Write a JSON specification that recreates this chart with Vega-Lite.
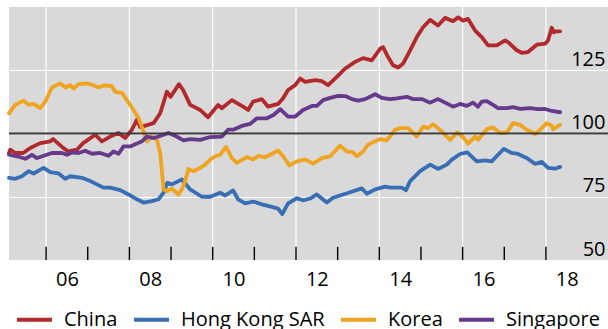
{
"$schema": "https://vega.github.io/schema/vega-lite/v6.json",
"width": 599, "height": 253,
"autosize": {"type": "none"},
"padding": {"left": 9, "top": 7, "right": 0, "bottom": 69},
"background": "white",
"config": {"view": {"fill": "#d9d9d9", "stroke": null}, "font": "Open Sans"},
"datasets": {
"years": [{"t":2006},{"t":2008},{"t":2010},{"t":2012},{"t":2014},{"t":2016},{"t":2018}],
"ticks": [{"t":2006,"v":50,"v2":55.2},{"t":2007,"v":50,"v2":55.2},{"t":2008,"v":50,"v2":55.2},{"t":2009,"v":50,"v2":55.2},{"t":2010,"v":50,"v2":55.2},{"t":2011,"v":50,"v2":55.2},{"t":2012,"v":50,"v2":55.2},{"t":2013,"v":50,"v2":55.2},{"t":2014,"v":50,"v2":55.2},{"t":2015,"v":50,"v2":55.2},{"t":2016,"v":50,"v2":55.2},{"t":2017,"v":50,"v2":55.2},{"t":2018,"v":50,"v2":55.2}],
"base": [{"v":100}],
"lines": [
{"s":"China","t":2005.11,"v":92.3},{"s":"China","t":2005.14,"v":93.6},{"s":"China","t":2005.26,"v":92.3},{"s":"China","t":2005.45,"v":92.3},{"s":"China","t":2005.62,"v":94.3},{"s":"China","t":2005.86,"v":96.2},{"s":"China","t":2006.10,"v":96.9},{"s":"China","t":2006.17,"v":97.8},{"s":"China","t":2006.41,"v":94.3},{"s":"China","t":2006.53,"v":92.9},{"s":"China","t":2006.74,"v":93.6},{"s":"China","t":2006.89,"v":96.2},{"s":"China","t":2007.18,"v":99.5},{"s":"China","t":2007.34,"v":96.9},{"s":"China","t":2007.54,"v":98.8},{"s":"China","t":2007.74,"v":100.2},{"s":"China","t":2007.90,"v":98.2},{"s":"China","t":2008.06,"v":101.5},{"s":"China","t":2008.18,"v":105.4},{"s":"China","t":2008.26,"v":102.5},{"s":"China","t":2008.58,"v":104.1},{"s":"China","t":2008.74,"v":108.0},{"s":"China","t":2008.90,"v":116.5},{"s":"China","t":2008.99,"v":114.5},{"s":"China","t":2009.19,"v":119.5},{"s":"China","t":2009.29,"v":117.2},{"s":"China","t":2009.46,"v":111.3},{"s":"China","t":2009.70,"v":109.3},{"s":"China","t":2009.89,"v":106.4},{"s":"China","t":2010.13,"v":111.3},{"s":"China","t":2010.22,"v":110.0},{"s":"China","t":2010.46,"v":113.2},{"s":"China","t":2010.73,"v":110.6},{"s":"China","t":2010.85,"v":109.3},{"s":"China","t":2010.97,"v":112.6},{"s":"China","t":2011.18,"v":113.6},{"s":"China","t":2011.33,"v":110.6},{"s":"China","t":2011.57,"v":111.7},{"s":"China","t":2011.69,"v":113.9},{"s":"China","t":2011.81,"v":117.2},{"s":"China","t":2011.98,"v":119.1},{"s":"China","t":2012.10,"v":121.7},{"s":"China","t":2012.22,"v":120.4},{"s":"China","t":2012.46,"v":121.1},{"s":"China","t":2012.62,"v":120.7},{"s":"China","t":2012.77,"v":119.1},{"s":"China","t":2012.98,"v":122.4},{"s":"China","t":2013.18,"v":125.7},{"s":"China","t":2013.42,"v":128.3},{"s":"China","t":2013.61,"v":129.8},{"s":"China","t":2013.82,"v":128.9},{"s":"China","t":2014.02,"v":133.5},{"s":"China","t":2014.09,"v":134.1},{"s":"China","t":2014.21,"v":130.2},{"s":"China","t":2014.33,"v":127.0},{"s":"China","t":2014.45,"v":126.1},{"s":"China","t":2014.57,"v":127.6},{"s":"China","t":2014.74,"v":132.9},{"s":"China","t":2014.90,"v":138.1},{"s":"China","t":2015.05,"v":142.0},{"s":"China","t":2015.22,"v":144.9},{"s":"China","t":2015.41,"v":142.7},{"s":"China","t":2015.58,"v":145.7},{"s":"China","t":2015.77,"v":144.4},{"s":"China","t":2015.89,"v":145.9},{"s":"China","t":2016.01,"v":144.6},{"s":"China","t":2016.13,"v":145.3},{"s":"China","t":2016.30,"v":140.7},{"s":"China","t":2016.46,"v":138.1},{"s":"China","t":2016.61,"v":134.8},{"s":"China","t":2016.82,"v":134.8},{"s":"China","t":2017.02,"v":136.8},{"s":"China","t":2017.09,"v":136.1},{"s":"China","t":2017.30,"v":132.9},{"s":"China","t":2017.42,"v":131.9},{"s":"China","t":2017.57,"v":132.2},{"s":"China","t":2017.78,"v":135.1},{"s":"China","t":2017.98,"v":135.5},{"s":"China","t":2018.05,"v":136.8},{"s":"China","t":2018.14,"v":141.8},{"s":"China","t":2018.19,"v":140.0},{"s":"China","t":2018.24,"v":140.4},{"s":"China","t":2018.34,"v":140.4},
{"s":"Hong Kong SAR","t":2005.11,"v":82.5},{"s":"Hong Kong SAR","t":2005.26,"v":82.1},{"s":"Hong Kong SAR","t":2005.42,"v":83.1},{"s":"Hong Kong SAR","t":2005.58,"v":85.1},{"s":"Hong Kong SAR","t":2005.70,"v":84.2},{"s":"Hong Kong SAR","t":2005.94,"v":86.4},{"s":"Hong Kong SAR","t":2006.10,"v":84.7},{"s":"Hong Kong SAR","t":2006.30,"v":84.2},{"s":"Hong Kong SAR","t":2006.46,"v":82.1},{"s":"Hong Kong SAR","t":2006.58,"v":83.1},{"s":"Hong Kong SAR","t":2006.86,"v":82.5},{"s":"Hong Kong SAR","t":2007.06,"v":81.2},{"s":"Hong Kong SAR","t":2007.22,"v":79.9},{"s":"Hong Kong SAR","t":2007.38,"v":78.6},{"s":"Hong Kong SAR","t":2007.54,"v":78.6},{"s":"Hong Kong SAR","t":2007.78,"v":77.6},{"s":"Hong Kong SAR","t":2007.98,"v":75.9},{"s":"Hong Kong SAR","t":2008.18,"v":74.0},{"s":"Hong Kong SAR","t":2008.34,"v":72.7},{"s":"Hong Kong SAR","t":2008.54,"v":73.3},{"s":"Hong Kong SAR","t":2008.70,"v":74.0},{"s":"Hong Kong SAR","t":2008.82,"v":76.6},{"s":"Hong Kong SAR","t":2008.91,"v":80.5},{"s":"Hong Kong SAR","t":2009.02,"v":79.9},{"s":"Hong Kong SAR","t":2009.26,"v":81.8},{"s":"Hong Kong SAR","t":2009.46,"v":77.9},{"s":"Hong Kong SAR","t":2009.74,"v":75.0},{"s":"Hong Kong SAR","t":2009.94,"v":75.0},{"s":"Hong Kong SAR","t":2010.18,"v":76.6},{"s":"Hong Kong SAR","t":2010.30,"v":75.5},{"s":"Hong Kong SAR","t":2010.49,"v":77.5},{"s":"Hong Kong SAR","t":2010.61,"v":74.0},{"s":"Hong Kong SAR","t":2010.78,"v":72.4},{"s":"Hong Kong SAR","t":2010.97,"v":73.1},{"s":"Hong Kong SAR","t":2011.18,"v":72.0},{"s":"Hong Kong SAR","t":2011.42,"v":71.0},{"s":"Hong Kong SAR","t":2011.57,"v":70.3},{"s":"Hong Kong SAR","t":2011.67,"v":68.1},{"s":"Hong Kong SAR","t":2011.81,"v":72.4},{"s":"Hong Kong SAR","t":2012.02,"v":74.4},{"s":"Hong Kong SAR","t":2012.17,"v":73.6},{"s":"Hong Kong SAR","t":2012.34,"v":74.3},{"s":"Hong Kong SAR","t":2012.50,"v":75.9},{"s":"Hong Kong SAR","t":2012.74,"v":72.7},{"s":"Hong Kong SAR","t":2012.89,"v":74.6},{"s":"Hong Kong SAR","t":2013.13,"v":75.9},{"s":"Hong Kong SAR","t":2013.37,"v":77.2},{"s":"Hong Kong SAR","t":2013.58,"v":78.3},{"s":"Hong Kong SAR","t":2013.70,"v":76.2},{"s":"Hong Kong SAR","t":2013.90,"v":77.9},{"s":"Hong Kong SAR","t":2014.14,"v":79.0},{"s":"Hong Kong SAR","t":2014.26,"v":78.6},{"s":"Hong Kong SAR","t":2014.54,"v":78.6},{"s":"Hong Kong SAR","t":2014.64,"v":77.6},{"s":"Hong Kong SAR","t":2014.74,"v":81.2},{"s":"Hong Kong SAR","t":2014.98,"v":85.1},{"s":"Hong Kong SAR","t":2015.22,"v":87.7},{"s":"Hong Kong SAR","t":2015.41,"v":86.0},{"s":"Hong Kong SAR","t":2015.62,"v":87.7},{"s":"Hong Kong SAR","t":2015.74,"v":89.7},{"s":"Hong Kong SAR","t":2015.94,"v":91.9},{"s":"Hong Kong SAR","t":2016.11,"v":92.5},{"s":"Hong Kong SAR","t":2016.34,"v":89.0},{"s":"Hong Kong SAR","t":2016.54,"v":89.4},{"s":"Hong Kong SAR","t":2016.70,"v":89.0},{"s":"Hong Kong SAR","t":2016.85,"v":91.6},{"s":"Hong Kong SAR","t":2016.99,"v":93.9},{"s":"Hong Kong SAR","t":2017.18,"v":92.3},{"s":"Hong Kong SAR","t":2017.33,"v":91.9},{"s":"Hong Kong SAR","t":2017.54,"v":90.3},{"s":"Hong Kong SAR","t":2017.74,"v":88.0},{"s":"Hong Kong SAR","t":2017.90,"v":88.8},{"s":"Hong Kong SAR","t":2018.05,"v":86.4},{"s":"Hong Kong SAR","t":2018.22,"v":86.1},{"s":"Hong Kong SAR","t":2018.34,"v":86.8},
{"s":"Korea","t":2005.11,"v":108.0},{"s":"Korea","t":2005.26,"v":111.3},{"s":"Korea","t":2005.46,"v":113.0},{"s":"Korea","t":2005.58,"v":111.3},{"s":"Korea","t":2005.70,"v":111.7},{"s":"Korea","t":2005.86,"v":110.0},{"s":"Korea","t":2005.98,"v":112.6},{"s":"Korea","t":2006.14,"v":118.2},{"s":"Korea","t":2006.34,"v":119.8},{"s":"Korea","t":2006.46,"v":118.2},{"s":"Korea","t":2006.58,"v":119.1},{"s":"Korea","t":2006.66,"v":117.8},{"s":"Korea","t":2006.78,"v":119.5},{"s":"Korea","t":2006.98,"v":119.8},{"s":"Korea","t":2007.14,"v":119.1},{"s":"Korea","t":2007.26,"v":118.2},{"s":"Korea","t":2007.38,"v":119.0},{"s":"Korea","t":2007.58,"v":118.7},{"s":"Korea","t":2007.66,"v":116.5},{"s":"Korea","t":2007.82,"v":116.1},{"s":"Korea","t":2007.94,"v":113.2},{"s":"Korea","t":2008.10,"v":109.3},{"s":"Korea","t":2008.22,"v":106.0},{"s":"Korea","t":2008.34,"v":100.8},{"s":"Korea","t":2008.42,"v":96.9},{"s":"Korea","t":2008.54,"v":98.8},{"s":"Korea","t":2008.66,"v":97.5},{"s":"Korea","t":2008.74,"v":92.3},{"s":"Korea","t":2008.82,"v":77.9},{"s":"Korea","t":2008.90,"v":77.2},{"s":"Korea","t":2009.02,"v":78.2},{"s":"Korea","t":2009.18,"v":75.9},{"s":"Korea","t":2009.30,"v":79.2},{"s":"Korea","t":2009.42,"v":86.0},{"s":"Korea","t":2009.54,"v":85.1},{"s":"Korea","t":2009.70,"v":86.4},{"s":"Korea","t":2009.82,"v":87.7},{"s":"Korea","t":2009.94,"v":89.7},{"s":"Korea","t":2010.06,"v":91.0},{"s":"Korea","t":2010.18,"v":91.6},{"s":"Korea","t":2010.32,"v":94.7},{"s":"Korea","t":2010.46,"v":90.3},{"s":"Korea","t":2010.58,"v":88.4},{"s":"Korea","t":2010.82,"v":90.7},{"s":"Korea","t":2010.97,"v":89.7},{"s":"Korea","t":2011.10,"v":91.2},{"s":"Korea","t":2011.26,"v":90.6},{"s":"Korea","t":2011.42,"v":92.0},{"s":"Korea","t":2011.57,"v":93.3},{"s":"Korea","t":2011.69,"v":91.0},{"s":"Korea","t":2011.84,"v":87.4},{"s":"Korea","t":2012.02,"v":89.0},{"s":"Korea","t":2012.22,"v":89.7},{"s":"Korea","t":2012.41,"v":88.1},{"s":"Korea","t":2012.62,"v":90.3},{"s":"Korea","t":2012.82,"v":91.0},{"s":"Korea","t":2013.06,"v":95.2},{"s":"Korea","t":2013.22,"v":92.9},{"s":"Korea","t":2013.37,"v":92.5},{"s":"Korea","t":2013.46,"v":91.0},{"s":"Korea","t":2013.61,"v":92.9},{"s":"Korea","t":2013.73,"v":95.6},{"s":"Korea","t":2014.02,"v":97.8},{"s":"Korea","t":2014.18,"v":97.3},{"s":"Korea","t":2014.38,"v":101.5},{"s":"Korea","t":2014.50,"v":102.1},{"s":"Korea","t":2014.69,"v":102.1},{"s":"Korea","t":2014.90,"v":98.8},{"s":"Korea","t":2015.05,"v":102.7},{"s":"Korea","t":2015.17,"v":102.1},{"s":"Korea","t":2015.29,"v":103.7},{"s":"Korea","t":2015.50,"v":100.8},{"s":"Korea","t":2015.70,"v":97.5},{"s":"Korea","t":2015.87,"v":100.4},{"s":"Korea","t":2016.01,"v":98.6},{"s":"Korea","t":2016.13,"v":96.0},{"s":"Korea","t":2016.30,"v":98.8},{"s":"Korea","t":2016.37,"v":97.5},{"s":"Korea","t":2016.58,"v":101.7},{"s":"Korea","t":2016.73,"v":102.4},{"s":"Korea","t":2016.90,"v":100.2},{"s":"Korea","t":2017.06,"v":100.4},{"s":"Korea","t":2017.21,"v":104.1},{"s":"Korea","t":2017.38,"v":103.4},{"s":"Korea","t":2017.54,"v":101.5},{"s":"Korea","t":2017.74,"v":99.8},{"s":"Korea","t":2017.86,"v":101.5},{"s":"Korea","t":2018.02,"v":104.1},{"s":"Korea","t":2018.14,"v":103.1},{"s":"Korea","t":2018.17,"v":101.7},{"s":"Korea","t":2018.34,"v":103.4},
{"s":"Singapore","t":2005.11,"v":91.6},{"s":"Singapore","t":2005.30,"v":91.0},{"s":"Singapore","t":2005.50,"v":90.0},{"s":"Singapore","t":2005.66,"v":91.6},{"s":"Singapore","t":2005.78,"v":90.3},{"s":"Singapore","t":2005.98,"v":91.4},{"s":"Singapore","t":2006.14,"v":92.3},{"s":"Singapore","t":2006.38,"v":92.3},{"s":"Singapore","t":2006.50,"v":91.6},{"s":"Singapore","t":2006.62,"v":92.5},{"s":"Singapore","t":2006.78,"v":92.3},{"s":"Singapore","t":2006.94,"v":93.2},{"s":"Singapore","t":2007.10,"v":92.0},{"s":"Singapore","t":2007.30,"v":92.3},{"s":"Singapore","t":2007.50,"v":91.2},{"s":"Singapore","t":2007.62,"v":92.9},{"s":"Singapore","t":2007.74,"v":92.0},{"s":"Singapore","t":2007.86,"v":94.9},{"s":"Singapore","t":2008.02,"v":94.9},{"s":"Singapore","t":2008.18,"v":96.0},{"s":"Singapore","t":2008.30,"v":96.9},{"s":"Singapore","t":2008.42,"v":98.8},{"s":"Singapore","t":2008.58,"v":98.2},{"s":"Singapore","t":2008.70,"v":98.8},{"s":"Singapore","t":2008.94,"v":100.2},{"s":"Singapore","t":2009.10,"v":99.1},{"s":"Singapore","t":2009.30,"v":97.3},{"s":"Singapore","t":2009.46,"v":97.8},{"s":"Singapore","t":2009.70,"v":97.5},{"s":"Singapore","t":2009.94,"v":98.6},{"s":"Singapore","t":2010.22,"v":98.8},{"s":"Singapore","t":2010.37,"v":101.5},{"s":"Singapore","t":2010.49,"v":101.5},{"s":"Singapore","t":2010.70,"v":103.0},{"s":"Singapore","t":2010.90,"v":103.8},{"s":"Singapore","t":2011.06,"v":106.0},{"s":"Singapore","t":2011.30,"v":106.0},{"s":"Singapore","t":2011.46,"v":107.3},{"s":"Singapore","t":2011.62,"v":109.6},{"s":"Singapore","t":2011.81,"v":106.7},{"s":"Singapore","t":2011.98,"v":106.7},{"s":"Singapore","t":2012.17,"v":109.3},{"s":"Singapore","t":2012.38,"v":110.9},{"s":"Singapore","t":2012.50,"v":110.9},{"s":"Singapore","t":2012.65,"v":113.2},{"s":"Singapore","t":2012.82,"v":114.1},{"s":"Singapore","t":2013.01,"v":114.9},{"s":"Singapore","t":2013.18,"v":114.8},{"s":"Singapore","t":2013.34,"v":113.6},{"s":"Singapore","t":2013.49,"v":113.0},{"s":"Singapore","t":2013.66,"v":113.6},{"s":"Singapore","t":2013.90,"v":115.5},{"s":"Singapore","t":2014.06,"v":114.1},{"s":"Singapore","t":2014.26,"v":113.6},{"s":"Singapore","t":2014.42,"v":113.9},{"s":"Singapore","t":2014.66,"v":114.5},{"s":"Singapore","t":2014.81,"v":113.6},{"s":"Singapore","t":2015.02,"v":113.6},{"s":"Singapore","t":2015.22,"v":112.2},{"s":"Singapore","t":2015.41,"v":113.6},{"s":"Singapore","t":2015.58,"v":112.2},{"s":"Singapore","t":2015.77,"v":110.6},{"s":"Singapore","t":2015.94,"v":111.7},{"s":"Singapore","t":2016.10,"v":110.9},{"s":"Singapore","t":2016.25,"v":112.2},{"s":"Singapore","t":2016.37,"v":110.6},{"s":"Singapore","t":2016.46,"v":112.6},{"s":"Singapore","t":2016.58,"v":112.8},{"s":"Singapore","t":2016.73,"v":111.3},{"s":"Singapore","t":2016.85,"v":110.0},{"s":"Singapore","t":2017.06,"v":110.0},{"s":"Singapore","t":2017.21,"v":110.4},{"s":"Singapore","t":2017.38,"v":109.7},{"s":"Singapore","t":2017.62,"v":110.0},{"s":"Singapore","t":2017.81,"v":109.6},{"s":"Singapore","t":2017.98,"v":109.7},{"s":"Singapore","t":2018.14,"v":108.9},{"s":"Singapore","t":2018.34,"v":108.4}
]
},
"layer": [
{
"data": {"name": "years"},
"mark": {"type": "rule", "color": "white", "strokeWidth": 1.2},
"encoding": {"x": {"field": "t", "type": "quantitative", "scale": {"domain": [2005.11, 2019.49], "nice": false, "zero": false},
"axis": {"values": [2006.5, 2008.5, 2010.5, 2012.5, 2014.5, 2016.5, 2018.5], "labelExpr": "slice(toString(floor(datum.value)), 2)", "grid": false, "domain": false, "ticks": false, "labelPadding": 9, "labelFontSize": 20, "labelColor": "black", "title": null}}}
},
{
"data": {"name": "ticks"},
"mark": {"type": "rule", "color": "black", "strokeWidth": 1.4},
"encoding": {
"x": {"field": "t", "type": "quantitative", "scale": {"domain": [2005.11, 2019.49], "nice": false, "zero": false},
"axis": {"values": [2006.5, 2008.5, 2010.5, 2012.5, 2014.5, 2016.5, 2018.5], "labelExpr": "slice(toString(floor(datum.value)), 2)", "grid": false, "domain": false, "ticks": false, "labelPadding": 9, "labelFontSize": 20, "labelColor": "black", "title": null}},
"y": {"field": "v", "type": "quantitative", "scale": {"domain": [50, 150], "nice": false, "zero": false},
"axis": {"orient": "right", "values": [50, 75, 100, 125], "grid": true, "gridColor": "white", "gridWidth": 1.2, "gridOpacity": 1, "ticks": false, "domain": false, "labelAlign": "right", "labelPadding": -3, "labelBaseline": "alphabetic", "labelOffset": -5, "labelFontSize": 20, "labelColor": "black", "title": null}},
"y2": {"field": "v2"}
}
},
{
"data": {"name": "lines"},
"mark": {"type": "line", "strokeWidth": 3.8, "strokeJoin": "round", "strokeCap": "round"},
"encoding": {
"x": {"field": "t", "type": "quantitative", "scale": {"domain": [2005.11, 2019.49], "nice": false, "zero": false},
"axis": {"values": [2006.5, 2008.5, 2010.5, 2012.5, 2014.5, 2016.5, 2018.5], "labelExpr": "slice(toString(floor(datum.value)), 2)", "grid": false, "domain": false, "ticks": false, "labelPadding": 9, "labelFontSize": 20, "labelColor": "black", "title": null}},
"y": {"field": "v", "type": "quantitative", "scale": {"domain": [50, 150], "nice": false, "zero": false},
"axis": {"orient": "right", "values": [50, 75, 100, 125], "grid": true, "gridColor": "white", "gridWidth": 1.2, "gridOpacity": 1, "ticks": false, "domain": false, "labelAlign": "right", "labelPadding": -3, "labelBaseline": "alphabetic", "labelOffset": -5, "labelFontSize": 20, "labelColor": "black", "title": null}},
"color": {"field": "s", "type": "nominal", "scale": {"domain": ["China", "Hong Kong SAR", "Korea", "Singapore"], "range": ["#B1292C", "#386EB4", "#EFA31F", "#65398C"]},
"legend": {"orient": "none", "legendX": 6, "legendY": 293, "direction": "horizontal", "title": null, "symbolType": "stroke", "symbolSize": 1225, "symbolStrokeWidth": 3.8, "labelFontSize": 20, "labelColor": "black", "labelOffset": 10, "columnPadding": 8}}
}
},
{
"data": {"name": "base"},
"mark": {"type": "rule", "color": "#3a3a3a", "strokeWidth": 1.8},
"encoding": {"y": {"field": "v", "type": "quantitative", "scale": {"domain": [50, 150], "nice": false, "zero": false},
"axis": {"orient": "right", "values": [50, 75, 100, 125], "grid": true, "gridColor": "white", "gridWidth": 1.2, "gridOpacity": 1, "ticks": false, "domain": false, "labelAlign": "right", "labelPadding": -3, "labelBaseline": "alphabetic", "labelOffset": -5, "labelFontSize": 20, "labelColor": "black", "title": null}}}
}
]
}
